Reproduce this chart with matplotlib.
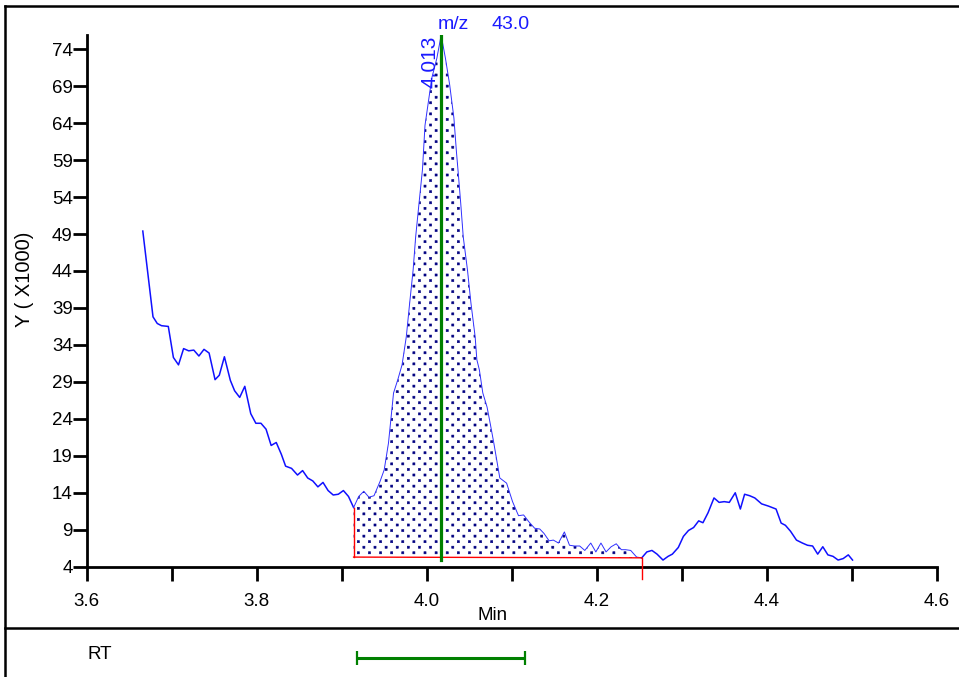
import numpy as np
import matplotlib
matplotlib.use("Agg")
import matplotlib.pyplot as plt
import matplotlib.hatch as mhatch
from matplotlib.path import Path
from matplotlib.lines import Line2D

plt.rcParams['font.family'] = ['Liberation Sans', 'DejaVu Sans']

# ---------------- data ----------------
times = [
    3.666, 3.678, 3.683, 3.688, 3.696, 3.702, 3.708, 3.714, 3.720, 3.726,
    3.732, 3.738, 3.744, 3.751, 3.756, 3.762, 3.769, 3.774, 3.780, 3.786,
    3.793, 3.799, 3.805, 3.811, 3.817, 3.823, 3.829, 3.834, 3.841, 3.848,
    3.854, 3.860, 3.866, 3.872, 3.878, 3.884, 3.890, 3.896, 3.902, 3.908,
    3.914, 3.920, 3.926, 3.932, 3.938, 3.945, 3.950, 3.955, 3.961, 3.966,
    3.971, 3.976, 3.980, 3.984, 3.987, 3.991, 3.995, 3.998, 4.002, 4.006,
    4.012, 4.017, 4.022, 4.027, 4.032, 4.035, 4.037, 4.040, 4.043, 4.048,
    4.052, 4.057, 4.059, 4.062, 4.066, 4.071, 4.075, 4.079, 4.086, 4.094,
    4.101, 4.108, 4.114, 4.120, 4.127, 4.133, 4.138, 4.144, 4.149, 4.155,
    4.162, 4.168, 4.174, 4.180, 4.186, 4.193, 4.199, 4.205, 4.211, 4.217,
    4.223, 4.229, 4.234, 4.240, 4.247, 4.253, 4.259, 4.265, 4.271, 4.278,
    4.284, 4.289, 4.296, 4.302, 4.308, 4.314, 4.320, 4.325, 4.331, 4.338,
    4.344, 4.350, 4.356, 4.363, 4.369, 4.374, 4.380, 4.386, 4.394, 4.402,
    4.411, 4.417, 4.422, 4.428, 4.435, 4.442, 4.448, 4.454, 4.460, 4.466,
    4.472, 4.478, 4.484, 4.490, 4.496, 4.501,
]
intensity_k = [
    49.4, 37.8, 36.9, 36.6, 36.5, 32.3, 31.3, 33.5, 33.2, 33.3,
    32.5, 33.4, 32.9, 29.3, 29.9, 32.4, 29.2, 27.8, 26.9, 28.4,
    24.7, 23.4, 23.4, 22.6, 20.4, 20.8, 19.2, 17.6, 17.3, 16.4,
    17.0, 16.0, 15.6, 14.8, 15.4, 14.3, 13.7, 13.8, 14.3, 13.5,
    12.0, 13.5, 14.2, 13.4, 13.6, 15.5, 17.1, 20.7, 27.5, 29.3,
    31.3, 35.1, 39.7, 44.1, 48.6, 53.2, 57.7, 63.7, 66.9, 70.1,
    72.8, 75.9, 72.8, 69.2, 64.7, 60.1, 57.4, 53.2, 48.6, 44.1,
    39.7, 35.1, 32.0, 30.6, 27.5, 25.6, 23.2, 20.7, 16.0, 15.3,
    12.8, 10.9, 11.0, 10.1, 9.2, 9.1, 8.5, 7.5, 7.6, 7.2,
    8.7, 6.9, 6.8, 6.8, 6.2, 7.2, 6.0, 7.2, 6.0, 6.7,
    7.1, 6.3, 6.3, 6.2, 5.3, 5.2, 6.0, 6.2, 5.7, 4.9,
    5.4, 5.7, 6.6, 8.1, 8.9, 9.3, 10.2, 9.95, 11.3, 13.3,
    12.7, 12.8, 12.7, 14.0, 11.8, 13.8, 13.6, 13.3, 12.5, 12.2,
    11.8, 9.9, 9.6, 8.8, 7.6, 7.2, 6.9, 6.8, 5.7, 6.7,
    5.6, 5.4, 4.9, 5.1, 5.6, 4.9,
]
integ_start = [3.914, 5.3]   # time, baseline level
integ_end = [4.253, 5.2]
peak_rt = 4.017
peak_label = "4.013"
mz_label = "43.0"
rt_window = [3.918, 4.116]
y_ticks = [4, 9, 14, 19, 24, 29, 34, 39, 44, 49, 54, 59, 64, 69, 74]
x_ticks = [3.6, 3.7, 3.8, 3.9, 4.0, 4.1, 4.2, 4.3, 4.4, 4.5, 4.6]
x_ticklabels = ["3.6", "", "3.8", "", "4.0", "", "4.2", "", "4.4", "", "4.6"]

t = np.array(times)
v = np.array(intensity_k)

# ------------- custom dotted hatch (staggered square dots) -------------
class _SquareDots(mhatch.HatchPatternBase):
    def __init__(self, hatch, density):
        n = hatch.count('.')
        self.rows = n * 18
        self.cols = n * 9
        self.num_vertices = self.rows * self.cols * 5

    def set_vertices_and_codes(self, vertices, codes):
        s = 0.0105
        sq = np.array([[-s, -s], [s, -s], [s, s], [-s, s], [-s, -s]])
        k = 0
        for r in range(self.rows):
            y = (r + 0.5) / self.rows
            off = 0.5 if r % 2 else 0.0
            for c in range(self.cols):
                x = (c + off + 0.25) / self.cols
                vertices[k:k + 5] = sq + [x, y]
                codes[k:k + 5] = [Path.MOVETO, Path.LINETO, Path.LINETO,
                                  Path.LINETO, Path.CLOSEPOLY]
                k += 5

mhatch._hatch_types = [_SquareDots]
plt.rcParams['hatch.linewidth'] = 0.4
plt.rcParams['hatch.color'] = '#000080'

# ---------------- figure ----------------
W, H = 959, 677
fig = plt.figure(figsize=(W / 100, H / 100), dpi=100)
fig.patch.set_facecolor('white')

ax_l, ax_r, ax_b, ax_t = 86.7, 936.7, 566.7, 35.0
ax = fig.add_axes([ax_l / W, (H - ax_b) / H, (ax_r - ax_l) / W, (ax_b - ax_t) / H])
ax.set_xlim(3.6, 4.6)
ax.set_ylim(4, 75.92)

for side in ('top', 'right'):
    ax.spines[side].set_visible(False)
for side in ('left', 'bottom'):
    ax.spines[side].set_linewidth(2.0)
    ax.spines[side].set_color('black')

ax.set_xticks(x_ticks)
ax.set_xticklabels(x_ticklabels)
ax.set_yticks(y_ticks)
ax.set_yticklabels([str(y) for y in y_ticks])
ax.tick_params(axis='x', direction='out', length=10, width=2, pad=9, labelsize=13.5)
ax.tick_params(axis='y', direction='out', length=10, width=2, pad=0, labelsize=13.5)

# integrated area
mask = (t >= integ_start[0]) & (t <= integ_end[0])
base = np.interp(t[mask], [integ_start[0], integ_end[0]], [integ_start[1], integ_end[1]])
ax.fill_between(t[mask], v[mask], base, facecolor='white', edgecolor='#000080',
                hatch='.', linewidth=0, zorder=1)

# chromatogram trace
i0 = np.argmax(mask)
i1 = len(mask) - np.argmax(mask[::-1])
ax.plot(t[:i0 + 1], v[:i0 + 1], color='#1010ff', lw=1.1, zorder=3)
ax.plot(t[i0:i1], v[i0:i1], color='#3030ff', lw=0.7, zorder=3)
ax.plot(t[i1 - 1:], v[i1 - 1:], color='#1010ff', lw=1.1, zorder=3)

# baseline and integration markers
ax.plot([integ_start[0], integ_end[0]], [integ_start[1], integ_end[1]], color='red', lw=1.0, zorder=4)
ax.plot([integ_start[0], integ_start[0]], [integ_start[1], v[i0]], color='red', lw=1.0, zorder=4)
ax.plot([integ_end[0], integ_end[0]], [integ_end[1], 2.3], color='red', lw=1.0, zorder=4, clip_on=False)

# apex marker
ax.plot([peak_rt, peak_rt], [4.9, v.max()], color='#008000', lw=2.3, zorder=5)

# annotations
ax.text(4.013, 76.7, "m/z", color='#1a1aff', fontsize=14, ha='left', va='baseline')
ax.text(4.0757, 76.7, mz_label, color='#1a1aff', fontsize=14, ha='left', va='baseline')
ax.text(4.0145, 68.7, peak_label, color='#1a1aff', fontsize=15, rotation=90,
        ha='right', va='bottom')

def fx(px):
    return px / W

def fy(py):
    return (H - py) / H

fig.text(fx(25), fy(279.5), "Y ( X1000)", rotation=90, ha='center', va='center', fontsize=14.5)
fig.text(fx(493), fy(615), "Min", ha='center', va='center', fontsize=13.5)
fig.text(fx(99.5), fy(654.5), "RT", ha='center', va='center', fontsize=13.5)

# frame lines
fig.add_artist(Line2D([fx(5), 1.0], [fy(6), fy(6)], color='black', lw=1.8, transform=fig.transFigure))
fig.add_artist(Line2D([fx(5), fx(5)], [fy(6), 0.0], color='black', lw=1.8, transform=fig.transFigure))
fig.add_artist(Line2D([fx(5), 1.0], [fy(628), fy(628)], color='black', lw=1.8, transform=fig.transFigure))

# RT lane
ax2 = fig.add_axes([ax_l / W, 0.0, (ax_r - ax_l) / W, (H - 628) / H])
ax2.set_xlim(3.6, 4.6)
ax2.set_ylim(0, 1)
ax2.axis('off')
rt_c = (rt_window[0] + rt_window[1]) / 2
ax2.errorbar([rt_c], [(H - 657.5) / (H - 628)], xerr=[(rt_window[1] - rt_window[0]) / 2],
             fmt='none', ecolor='#008000', elinewidth=2.2, capsize=5, capthick=1.6)

fig.savefig("out.png", dpi=100)
